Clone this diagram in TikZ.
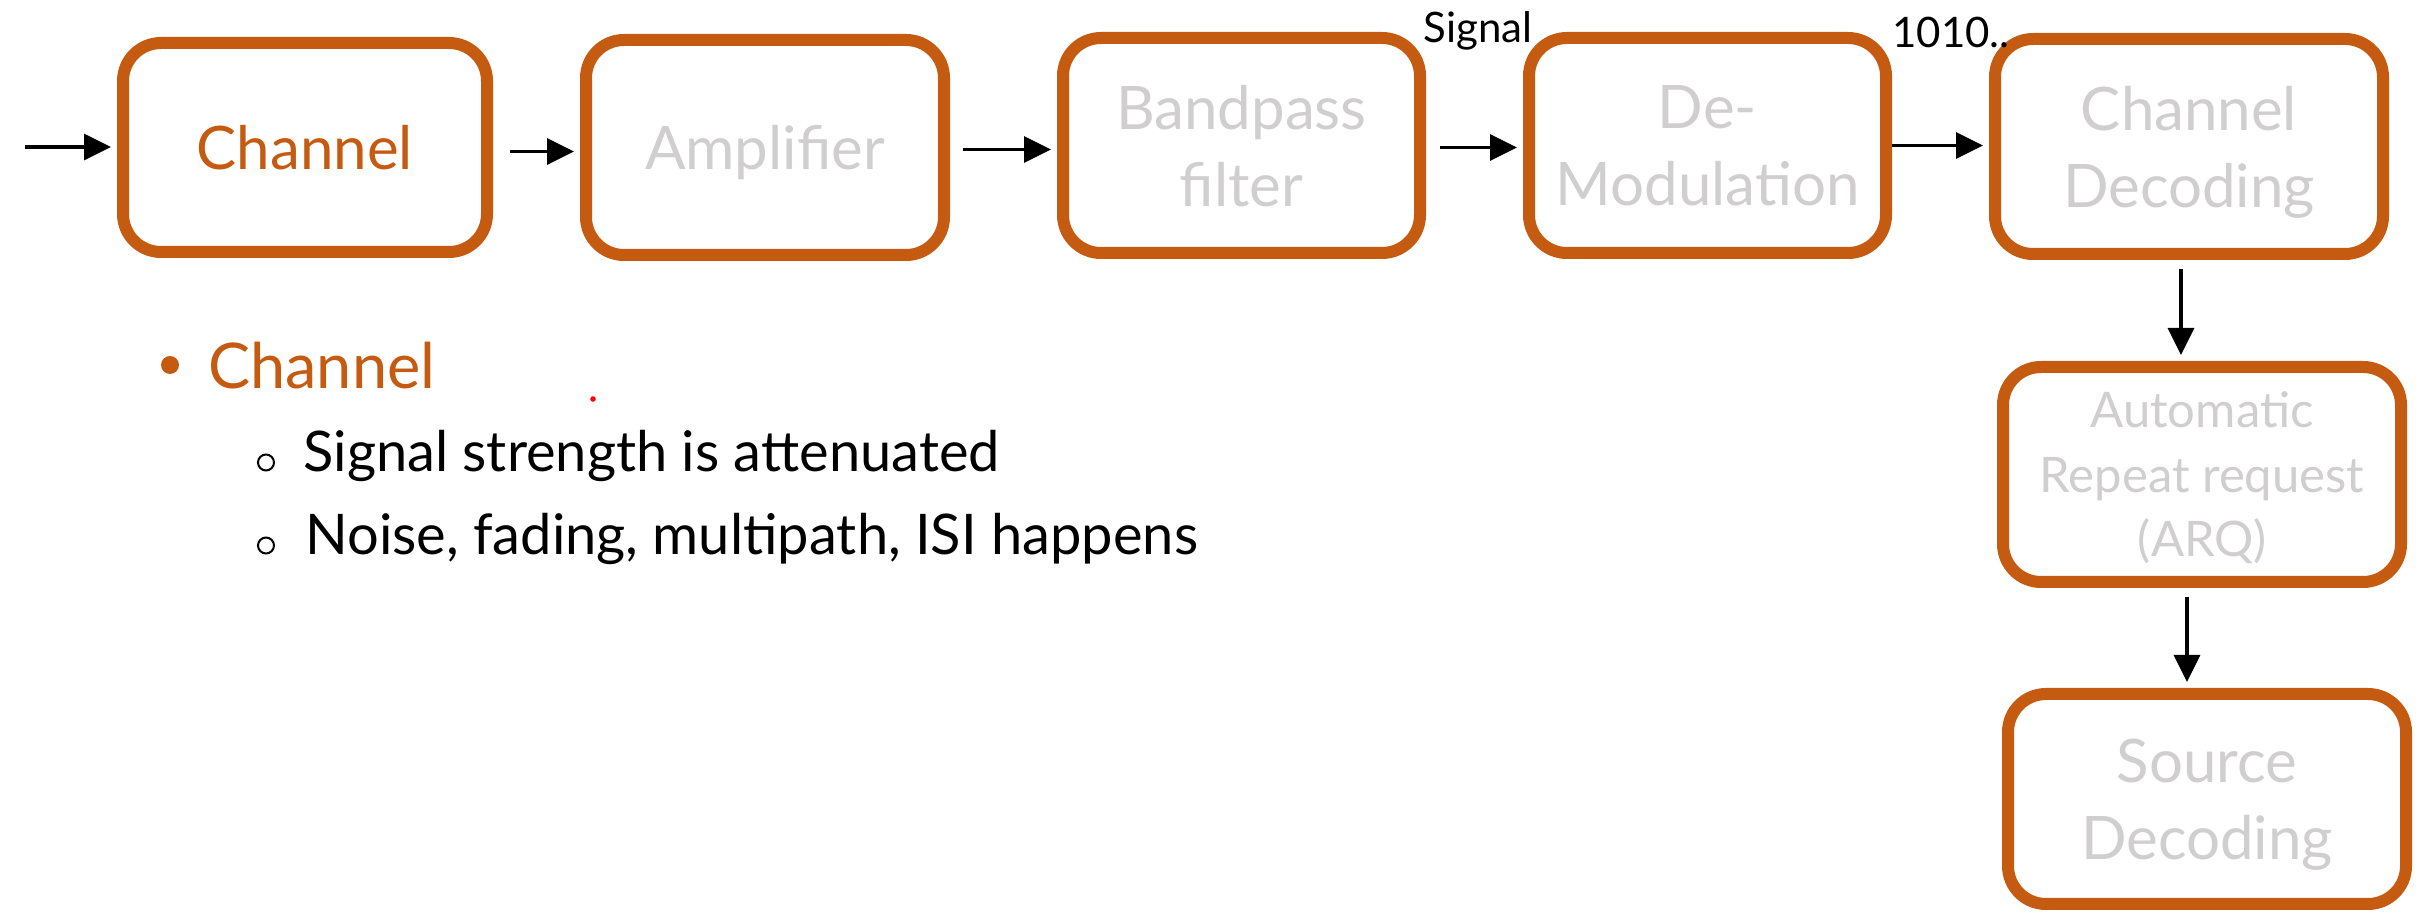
\documentclass[tikz,border=0pt]{standalone}
\usepackage{fontspec}
\setmainfont{Lato}
\usetikzlibrary{arrows.meta}
\definecolor{rust}{RGB}{197,90,17}
\definecolor{mute}{RGB}{208,206,206}

\begin{document}
\begin{tikzpicture}[x=0.5pt,y=-0.5pt,
  stage/.style={draw=rust, line width=6pt, rounded corners=19pt, fill=white,
    text=mute, align=center, inner sep=0pt, text depth=0pt,
    font=\fontsize{30}{38.5}\selectfont},
  flow/.style={-{Triangle[length=13.5pt,width=13pt]}, line width=1.65pt,
    black, shorten >=3pt},
  tag/.style={anchor=base, text=black, inner sep=0pt,
    font=\fontsize{21}{25}\selectfont},
  item/.style={anchor=base west, inner sep=0pt, text=black,
    font=\fontsize{28}{34}\selectfont},
  subdot/.style={circle, draw=black, line width=1pt, inner sep=0pt,
    minimum size=8pt}
]
\useasboundingbox (0,0) rectangle (2422,913);

% processing chain, top row
\node[stage, text=rust, minimum width=182pt, minimum height=104.5pt] (ch) at (305,147.5) {Channel};
\node[stage, minimum width=179pt, minimum height=107.5pt] (amp) at (765,147.5) {Amplifier};
\node[stage, minimum width=178.5pt, minimum height=107.5pt] (bp) at (1241.5,145.5) {Bandpass\\filter};
\node[stage, minimum width=178.5pt, minimum height=107.5pt] (dem) at (1707.5,145.5) {De-\\Modulation};
\node[stage, minimum width=194pt, minimum height=107.5pt] (cdec) at (2189,146.5) {Channel\\Decoding};

% right column
\node[stage, minimum width=199pt, minimum height=107.5pt,
  font=\fontsize{24.5}{32.25}\selectfont] (arq) at (2202,474.5) {Automatic\\Repeat request\\(ARQ)};
\node[stage, minimum width=199pt, minimum height=105pt] (sdec) at (2207,799) {Source\\Decoding};

% connectors
\coordinate (src) at (25,147);
\draw[flow] (src) -- (src -| ch.west);
\draw[flow, shorten <=8.5pt] ([yshift=-2pt]ch.east) -- ([yshift=-2pt]ch.east -| amp.west);
\draw[flow, shorten <=6.5pt] ([yshift=-1pt]amp.east) -- ([yshift=-1pt]amp.east -| bp.west);
\draw[flow, shorten <=7pt] ([yshift=-1pt]bp.east) -- ([yshift=-1pt]bp.east -| dem.west);
\draw[flow] (dem.east) -- (dem.east -| cdec.west);
\draw[flow, shorten <=4.5pt] ([xshift=-4pt]cdec.south) -- ([xshift=-4pt]cdec.south |- arq.north);
\draw[flow, shorten <=4.5pt] ([xshift=-7.5pt]arq.south) -- ([xshift=-7.5pt]arq.south |- sdec.north);

% signal labels
\node[tag] (lsig) at (1478,43) {Signal};
\node[tag] (lbits) at (1951,48) {1010..};

% bullet list
\node[circle, fill=rust, inner sep=0pt, minimum size=9pt] (b0) at (170,365) {};
\node[anchor=base west, inner sep=0pt, text=rust,
  font=\fontsize{31.5}{38}\selectfont] (t0) at (208,389) {Channel};
\node[subdot] (b1) at (266,462.5) {};
\node[item] (t1) at (303,472) {Signal strength is attenuated};
\node[subdot] (b2) at (266,545.5) {};
\node[item] (t2) at (305,555) {Noise, fading, multipath, ISI happens};

% small red mark
\fill[red] (593,399) circle (1.4pt);
\end{tikzpicture}
\end{document}
